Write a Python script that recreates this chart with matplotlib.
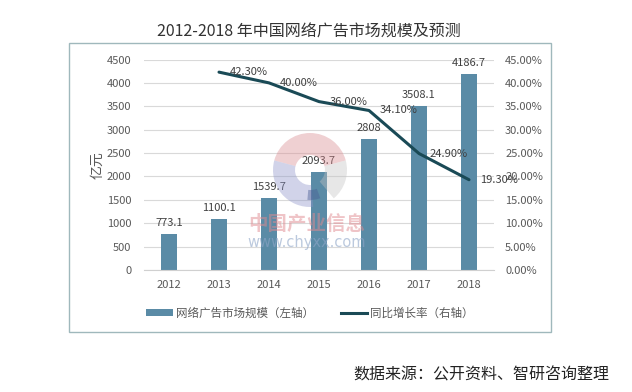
import matplotlib
matplotlib.use("Agg")
import matplotlib.pyplot as plt
from matplotlib.patches import Rectangle, Wedge
from matplotlib.lines import Line2D
from matplotlib.patches import Patch

plt.rcParams['font.family'] = ['Noto Sans CJK SC', 'DejaVu Sans']

years = ['2012', '2013', '2014', '2015', '2016', '2017', '2018']
market = [773.1, 1100.1, 1539.7, 2093.7, 2808, 3508.1, 4186.7]
market_labels = ['773.1', '1100.1', '1539.7', '2093.7', '2808', '3508.1', '4186.7']
growth_years = ['2013', '2014', '2015', '2016', '2017', '2018']
growth = [42.30, 40.00, 36.00, 34.10, 24.90, 19.30]
left_ticks = [0, 500, 1000, 1500, 2000, 2500, 3000, 3500, 4000, 4500]
right_ticks = [0, 5, 10, 15, 20, 25, 30, 35, 40, 45]

BAR = '#5a8ba6'
LINE = '#1a4a56'
TXT = '#595959'

W, H = 632, 392
fig = plt.figure(figsize=(W / 100, H / 100), dpi=100)
fig.patch.set_facecolor('white')

# chart box
fig.patches.append(Rectangle((69 / W, 1 - 332 / H), 482 / W, 289 / H,
                             transform=fig.transFigure, fill=False,
                             edgecolor='#9fb8bc', linewidth=1.0))

ax = fig.add_axes([144 / W, 1 - 270 / H, 350 / W, 210.5 / H])
x = list(range(len(years)))
ax.bar(x, market, width=0.32, color=BAR, zorder=2)
ax.set_xlim(-0.5, len(years) - 0.5)
ax.set_ylim(0, 4500)
ax.set_yticks(left_ticks)
ax.set_yticklabels([str(t) for t in left_ticks])
ax.set_xticks(x)
ax.set_xticklabels(years)
ax.grid(axis='y', color='#d9d9d9', linewidth=0.8, zorder=0)
for s in ['top', 'left', 'right']:
    ax.spines[s].set_visible(False)
ax.spines['bottom'].set_color('#d0d0d0')
ax.tick_params(axis='both', length=0, labelsize=8, colors=TXT)
ax.tick_params(axis='y', pad=9)
ax.tick_params(axis='x', pad=7)

for xi, v, lab in zip(x, market, market_labels):
    ax.annotate(lab, (xi, v), xytext=(0, 6), textcoords='offset pixels',
                ha='center', va='bottom', fontsize=8, color='#404040', zorder=5)

ax2 = ax.twinx()
gx = [years.index(y) for y in growth_years]
ax2.plot(gx, growth, color=LINE, linewidth=2.2, solid_joinstyle='round',
         solid_capstyle='round', zorder=4)
ax2.set_ylim(0, 45)
ax2.set_yticks(right_ticks)
ax2.set_yticklabels([f'{t:.2f}%' for t in right_ticks])
for s in ['top', 'left', 'right', 'bottom']:
    ax2.spines[s].set_visible(False)
ax2.tick_params(axis='y', length=0, labelsize=8, colors=TXT, pad=8)
for xi, v in zip(gx, growth):
    ax2.annotate(f'{v:.2f}%', (xi, v), xytext=(11, 0), textcoords='offset pixels',
                 ha='left', va='center', fontsize=8, color='#404040', zorder=6)

fig.text(97 / W, 1 - 165 / H, '亿元', rotation=90, ha='center', va='center',
         fontsize=10, color=TXT)

fig.text(309 / W, 1 - 32 / H, '2012-2018 年中国网络广告市场规模及预测',
         ha='center', va='center', fontsize=11.5, color='#333333')

handles = [Patch(facecolor=BAR, edgecolor='none'),
           Line2D([0], [0], color=LINE, linewidth=2.2)]
fig.legend(handles, ['网络广告市场规模（左轴）', '同比增长率（右轴）'],
           loc='center', bbox_to_anchor=(310 / W, 1 - 313 / H), ncol=2,
           frameon=False, fontsize=8.3, handlelength=2.3, handleheight=0.6,
           handletextpad=0.3, columnspacing=2.3, labelcolor=TXT)

fig.text(609 / W, 1 - 375 / H, '数据来源：公开资料、智研咨询整理',
         ha='right', va='center', fontsize=11.5, color='#222222')

# watermark overlay (y axis inverted: angles are mirrored)
wm = fig.add_axes([0, 0, 1, 1], zorder=10)
wm.set_xlim(0, W)
wm.set_ylim(H, 0)
wm.axis('off')
wm.patch.set_alpha(0)
cx, cy = 310, 170
wm.add_patch(Wedge((cx, cy), 37, -165, -15, width=22, color='#d98a90', alpha=0.4, lw=0))
wm.add_patch(Wedge((cx, cy), 37, 85, 195, width=22, color='#8d93c9', alpha=0.4, lw=0))
wm.add_patch(Wedge((cx, cy), 37, -15, 50, width=22, color='#c4c4c4', alpha=0.4, lw=0))
wm.add_patch(Wedge((cx, cy), 30, 70, 95, width=10, color='#4a5f95', alpha=0.45, lw=0))
wm.text(307, 224, '中国产业信息', ha='center', va='center', fontsize=14,
        fontweight='bold', color='#e08a90', alpha=0.5)
wm.text(307, 242, 'www.chyxx.com', ha='center', va='center', fontsize=10.5,
        color='#8fa6c8', alpha=0.6, family=['DejaVu Sans'])

fig.savefig('out.png', dpi=100, facecolor='white')
